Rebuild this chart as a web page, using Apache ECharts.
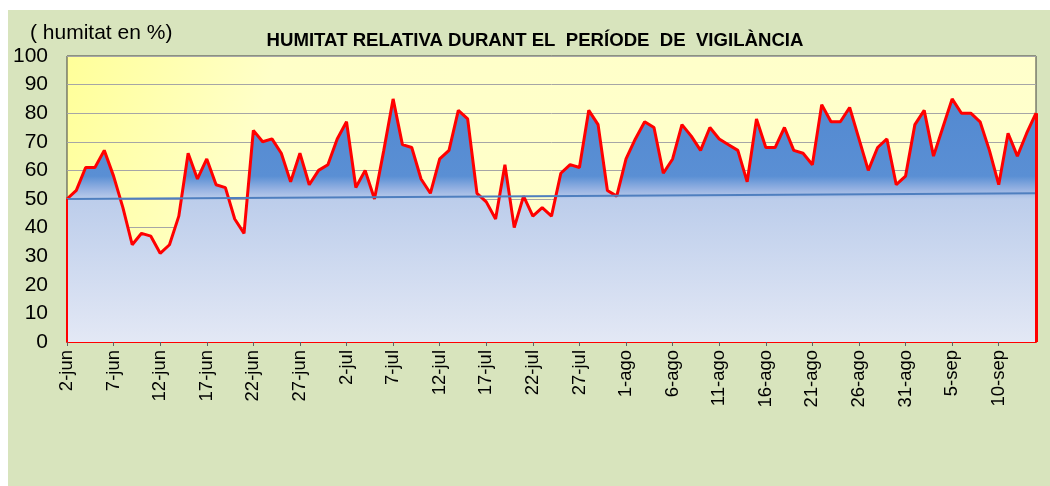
<!DOCTYPE html>
<html>
<head>
<meta charset="utf-8">
<script src="https://cdn.jsdelivr.net/npm/echarts@6/dist/echarts.min.js"></script>
<style>
  html, body { margin: 0; padding: 0; background: #fff; }
  #chart { width: 1050px; height: 486px; }
</style>
</head>
<body>
<div id="chart"></div>
<script>
// months shown on the axis, from 2-jun to 14-sep
const months = [['jun', 2, 30], ['jul', 1, 31], ['ago', 1, 31], ['sep', 1, 14]];
const days = [];
months.forEach(([m, from, to]) => {
    for (let d = from; d <= to; d++) days.push(d + '-' + m);
});

// relative humidity (%) per day
const humidity = [
    50, 53, 61, 61, 67, 58, 47, 34, 38, 37,
    31, 34, 44, 66, 57, 64, 55, 54, 43, 38,
    74, 70, 71, 66, 56, 66, 55, 60, 62, 71,
    77, 54, 60, 50, 67, 85, 69, 68, 57, 52,
    64, 67, 81, 78, 52, 49, 43, 62, 40, 51,
    44, 47, 44, 59, 62, 61, 81, 76, 53, 51,
    64, 71, 77, 75, 59, 64, 76, 72, 67, 75,
    71, 69, 67, 56, 78, 68, 68, 75, 67, 66,
    62, 83, 77, 77, 82, 71, 60, 68, 71, 55,
    58, 76, 81, 65, 75, 85, 80, 80, 77, 67,
    55, 73, 65, 73, 80
];

// trend line, start and end values
const trend = [50.0, 52.0];

const yTicks = { min: 0, max: 100, interval: 10 };

const chart = echarts.init(document.getElementById('chart'));
const first = days[0];
const last = days[days.length - 1];

chart.setOption({
    backgroundColor: '#ffffff',
    animation: false,
    textStyle: { fontFamily: 'Liberation Sans, Arial, sans-serif' },
    graphic: [{
        type: 'rect',
        z: -10,
        shape: { x: 8, y: 10, width: 1042, height: 476 },
        style: { fill: '#d8e4bd' }
    }, {
        type: 'text',
        left: 30,
        top: 23,
        style: { text: '( humitat en %)', font: '21px "Liberation Sans", Arial, sans-serif', fill: '#000' }
    }],
    title: {
        text: 'HUMITAT RELATIVA DURANT EL  PERÍODE  DE  VIGILÀNCIA',
        left: 530,
        textAlign: 'center',
        top: 26,
        textStyle: { fontSize: 18.6, fontWeight: 'bold', color: '#000' }
    },
    grid: {
        left: 67, right: 14, top: 56, bottom: 144,
        show: true,
        borderColor: '#404040',
        borderWidth: 1,
        backgroundColor: {
            type: 'linear', x: 0, y: 0, x2: 1, y2: 1,
            colorStops: [
                { offset: 0, color: '#ffff99' },
                { offset: 0.2, color: '#ffffc8' },
                { offset: 1, color: '#ffffcc' }
            ]
        }
    },
    xAxis: {
        type: 'category',
        data: days,
        boundaryGap: false,
        axisLine: { lineStyle: { color: '#ff0000', width: 2 } },
        axisTick: { interval: 4, length: 4, lineStyle: { color: '#606060' } },
        axisLabel: {
            interval: 4, rotate: 90, fontSize: 18.5, color: '#000', margin: 8
        },
        splitLine: { show: false }
    },
    yAxis: {
        type: 'value',
        min: yTicks.min,
        max: yTicks.max,
        interval: yTicks.interval,
        axisLine: { show: false },
        axisTick: { show: false },
        axisLabel: { fontSize: 21, color: '#000', margin: 19 },
        splitLine: { lineStyle: { color: '#a6a6a6', width: 1 } }
    },
    series: [{
        type: 'line',
        data: humidity,
        symbol: 'none',
        lineStyle: { color: '#ff0000', width: 3 },
        areaStyle: {
            opacity: 1,
            color: {
                type: 'linear', global: true, x: 0, y: 56, x2: 0, y2: 342,
                colorStops: [
                    { offset: 0, color: '#4f86cf' },
                    { offset: 0.42, color: '#5a8fd4' },
                    { offset: 0.47, color: '#9bb5e3' },
                    { offset: 0.5, color: '#bccdeb' },
                    { offset: 1, color: '#e3e8f5' }
                ]
            }
        },
        markLine: {
            silent: true,
            symbol: 'none',
            label: { show: false },
            data: [
                [{ coord: [first, trend[0]], lineStyle: { color: '#4f7fbf', width: 2, type: 'solid' } },
                 { coord: [last, trend[1]] }],
                [{ coord: [first, 0], lineStyle: { color: '#ff0000', width: 2, type: 'solid' } },
                 { coord: [first, humidity[0]] }],
                [{ coord: [last, 0], lineStyle: { color: '#ff0000', width: 3, type: 'solid' } },
                 { coord: [last, humidity[humidity.length - 1]] }]
            ]
        }
    }]
});
</script>
</body>
</html>
